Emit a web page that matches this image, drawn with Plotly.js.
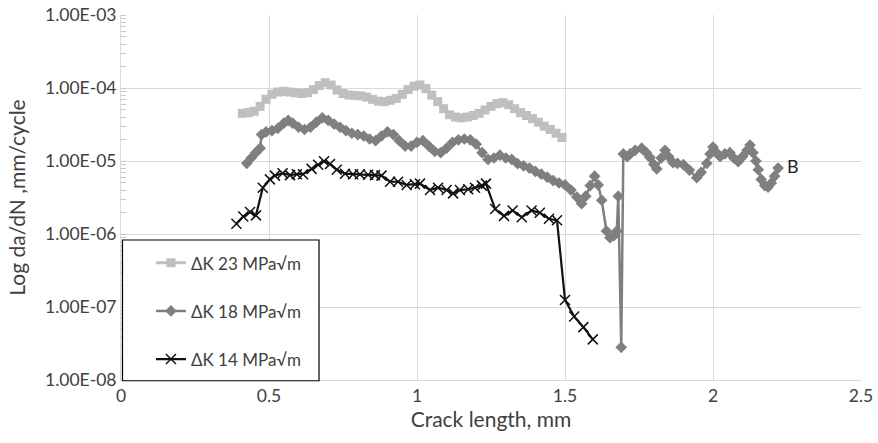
<!DOCTYPE html>
<html>
<head>
<meta charset="utf-8">
<script src="https://cdn.plot.ly/plotly-3.0.1.min.js"></script>
<style>html,body{margin:0;padding:0;background:#fff;}#chart{width:878px;height:443px;}</style>
</head>
<body>
<div id="chart"></div>
<script>
// ΔK 23 MPa√m
const x23 = [0.41,0.43,0.45,0.47,0.49,0.51,0.53,0.55,0.57,0.59,0.61,0.63,0.65,0.67,0.69,0.71,0.73,0.75,0.77,0.79,0.81,0.83,0.85,0.87,0.89,0.91,0.93,0.95,0.97,0.99,1.01,1.03,1.05,1.07,1.09,1.11,1.13,1.15,1.17,1.19,1.21,1.23,1.25,1.27,1.29,1.31,1.33,1.35,1.37,1.39,1.41,1.43,1.45,1.47,1.49];
const y23 = [4.5e-5,4.6e-5,4.8e-5,5.6e-5,7.0e-5,8.2e-5,8.8e-5,9.0e-5,8.8e-5,8.6e-5,8.4e-5,8.6e-5,9.5e-5,1.08e-4,1.18e-4,1.1e-4,9.4e-5,8.4e-5,8.0e-5,7.9e-5,7.8e-5,7.5e-5,7.0e-5,6.6e-5,6.5e-5,6.8e-5,7.2e-5,8.2e-5,9.5e-5,1.06e-4,1.1e-4,9.8e-5,8.0e-5,6.5e-5,5.2e-5,4.3e-5,4.0e-5,3.9e-5,4.0e-5,4.2e-5,4.5e-5,5.0e-5,5.6e-5,6.1e-5,6.3e-5,5.9e-5,5.2e-5,4.6e-5,4.2e-5,3.8e-5,3.4e-5,3.0e-5,2.7e-5,2.4e-5,2.1e-5];

// ΔK 18 MPa√m
const x18 = [0.425,0.44,0.455,0.47,0.475,0.49,0.51,0.53,0.55,0.565,0.58,0.60,0.62,0.64,0.66,0.68,0.70,0.72,0.74,0.76,0.78,0.80,0.82,0.84,0.86,0.88,0.90,0.92,0.94,0.96,0.98,1.00,1.02,1.04,1.06,1.08,1.10,1.12,1.14,1.16,1.18,1.20,1.22,1.24,1.26,1.28,1.30,1.32,1.34,1.36,1.38,1.40,1.42,1.44,1.46,1.48,1.50,1.52,1.54,1.556,1.57,1.585,1.60,1.612,1.624,1.64,1.652,1.665,1.675,1.68,1.69,1.697,1.71,1.72,1.737,1.759,1.775,1.787,1.80,1.81,1.825,1.838,1.85,1.865,1.88,1.90,1.92,1.945,1.96,1.979,1.99,2.00,2.012,2.024,2.04,2.057,2.07,2.085,2.10,2.115,2.125,2.135,2.145,2.153,2.163,2.175,2.186,2.197,2.208,2.22];
const y18 = [9.3e-6,1.1e-5,1.3e-5,1.5e-5,2.3e-5,2.5e-5,2.6e-5,2.8e-5,3.3e-5,3.6e-5,3.3e-5,2.9e-5,2.7e-5,2.9e-5,3.4e-5,3.9e-5,3.6e-5,3.2e-5,2.9e-5,2.6e-5,2.4e-5,2.3e-5,2.2e-5,2.0e-5,1.9e-5,2.2e-5,2.5e-5,2.3e-5,1.9e-5,1.6e-5,1.6e-5,1.8e-5,1.9e-5,1.6e-5,1.35e-5,1.3e-5,1.5e-5,1.8e-5,1.95e-5,2.0e-5,1.95e-5,1.7e-5,1.3e-5,1.05e-5,1.1e-5,1.2e-5,1.1e-5,1.05e-5,9.2e-6,8.6e-6,8.0e-6,7.2e-6,6.6e-6,6.0e-6,5.4e-6,5.0e-6,4.7e-6,4.0e-6,3.2e-6,2.6e-6,3.3e-6,4.6e-6,6.2e-6,4.7e-6,2.9e-6,1.1e-6,8.9e-7,9.5e-7,1.1e-6,3.3e-6,2.8e-8,1.25e-5,1.15e-5,1.25e-5,1.4e-5,1.5e-5,1.3e-5,1.12e-5,9.0e-6,7.8e-6,1.1e-5,1.4e-5,1.15e-5,9.5e-6,9.3e-6,8.9e-6,7.5e-6,5.9e-6,7.0e-6,9.3e-6,1.25e-5,1.55e-5,1.3e-5,1.15e-5,1.25e-5,1.3e-5,1.1e-5,9.8e-6,1.15e-5,1.4e-5,1.65e-5,1.3e-5,1.0e-5,7.6e-6,5.6e-6,4.6e-6,4.4e-6,5.0e-6,6.2e-6,8.0e-6];

// ΔK 14 MPa√m
const x14 = [0.39,0.413,0.436,0.456,0.479,0.503,0.52,0.546,0.571,0.594,0.615,0.644,0.666,0.686,0.706,0.729,0.757,0.784,0.807,0.835,0.858,0.88,0.909,0.936,0.965,0.993,1.01,1.044,1.071,1.10,1.122,1.145,1.173,1.196,1.219,1.233,1.264,1.294,1.323,1.354,1.387,1.415,1.446,1.473,1.50,1.531,1.562,1.594];
const y14 = [1.38e-6,1.74e-6,2.0e-6,1.8e-6,4.3e-6,5.6e-6,6.3e-6,6.8e-6,6.4e-6,6.6e-6,6.6e-6,7.8e-6,8.9e-6,9.9e-6,9.1e-6,7.6e-6,6.7e-6,6.6e-6,6.6e-6,6.5e-6,6.4e-6,6.3e-6,5.2e-6,5.2e-6,4.7e-6,4.8e-6,4.9e-6,4.0e-6,4.3e-6,4.0e-6,3.6e-6,4.0e-6,4.1e-6,4.3e-6,4.6e-6,4.9e-6,2.2e-6,1.77e-6,2.1e-6,1.7e-6,2.1e-6,1.95e-6,1.62e-6,1.54e-6,1.25e-7,7.4e-8,5.3e-8,3.6e-8];

const seriesNames = ['ΔK 23 MPa√m','ΔK 18 MPa√m','ΔK 14 MPa√m'];
const xTickVals = [0,0.5,1,1.5,2,2.5];
const xTickText = ['0','0.5','1','1.5','2','2.5'];
const yTickVals = [1e-8,1e-7,1e-6,1e-5,1e-4,1e-3];
const yTickText = ['1.00E-08','1.00E-07','1.00E-06','1.00E-05','1.00E-04','1.00E-03'];
const curveLabel = 'B';
const curveLabelX = 2.27, curveLabelY = 8.6e-6;

const FONT = 'Lato, "Open Sans", sans-serif';
const TXT = '#404040';

const traces = [
  {x:x23, y:y23, name:seriesNames[0], legendgroup:'a', mode:'lines+markers',
   line:{color:'#bfbfbf', width:3}, marker:{symbol:'square', size:9, color:'#bfbfbf'}},
  {x:x18, y:y18, name:seriesNames[1], legendgroup:'b', mode:'lines+markers',
   line:{color:'#7f7f7f', width:2.5}, marker:{symbol:'diamond', size:9, color:'#7f7f7f'}},
  {x:x14, y:y14, name:seriesNames[2], legendgroup:'c', mode:'lines+markers',
   line:{color:'#111111', width:2.2}, marker:{symbol:'x-thin-open', size:10, color:'#111111', line:{width:1.5, color:'#111111'}}}
];

const layout = {
  width:878, height:443,
  margin:{l:121, r:17, t:15, b:63},
  paper_bgcolor:'#fff', plot_bgcolor:'#fff',
  font:{family:FONT, size:17, color:TXT},
  showlegend:true,
  legend:{x:0.0405, y:0.369, xanchor:'left', yanchor:'top', bgcolor:'rgba(0,0,0,0)', borderwidth:0,
          tracegroupgap:23, font:{family:FONT, size:17, color:TXT}},
  xaxis:{range:[0,2.5], tickvals:xTickVals, ticktext:xTickText, showgrid:true, gridcolor:'#d9d9d9', gridwidth:1,
         zeroline:false, showline:true, linecolor:'#d9d9d9', linewidth:1, ticks:'',
         tickfont:{family:FONT, size:17.5, color:TXT},
         title:{text:'Crack length, mm', font:{family:FONT, size:21, color:TXT}, standoff:6}},
  yaxis:{type:'log', range:[-8,-3], tickvals:yTickVals, ticktext:yTickText, showgrid:true, gridcolor:'#d9d9d9', gridwidth:1,
         zeroline:false, showline:true, linecolor:'#d9d9d9', linewidth:1, ticks:'',
         minor:{ticks:'inside', ticklen:5, tickcolor:'#c8c8c8', dtick:'D1', showgrid:false},
         tickfont:{family:FONT, size:17.5, color:TXT},
         title:{text:'Log da/dN ,mm/cycle', font:{family:FONT, size:21, color:TXT}, standoff:13}},
  shapes:[{type:'rect', xref:'paper', yref:'paper', x0:0.002, x1:0.2676, y0:-0.002, y1:0.3836,
           line:{color:'#000', width:1.2}, fillcolor:'#fff', layer:'above'}],
  annotations:[{x:curveLabelX, y:Math.log10(curveLabelY), xref:'x', yref:'y', text:curveLabel, showarrow:false,
                xanchor:'center', yanchor:'middle', font:{family:FONT, size:18, color:'#222'}}]
};

Plotly.newPlot('chart', traces, layout, {displayModeBar:false, staticPlot:true});
</script>
</body>
</html>
